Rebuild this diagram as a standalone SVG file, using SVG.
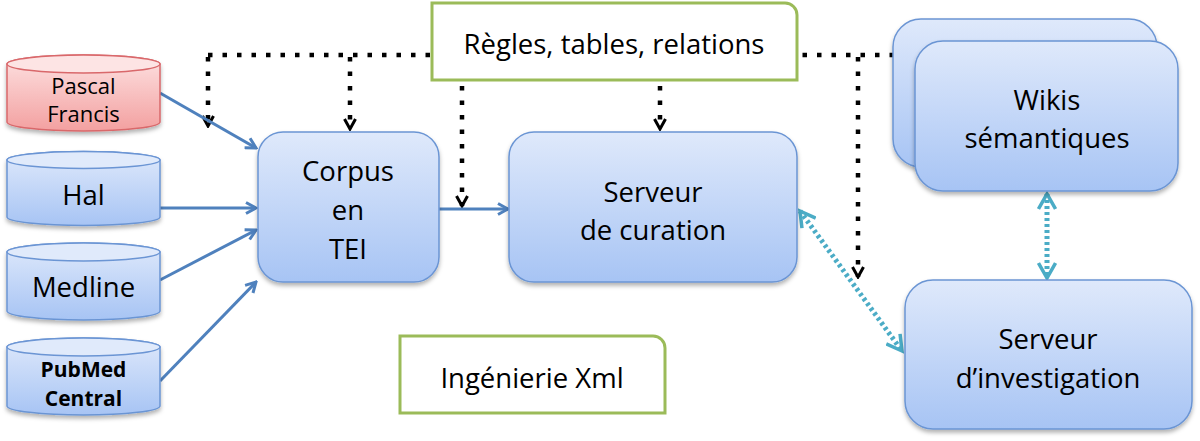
<svg xmlns="http://www.w3.org/2000/svg" width="1200" height="441" viewBox="0 0 1200 441">
<defs>
<linearGradient id="gBlue" x1="0" y1="0" x2="0" y2="1">
<stop offset="0" stop-color="#dfe9fb"/>
<stop offset="1" stop-color="#a7c4f4"/>
</linearGradient>
<linearGradient id="gRed" x1="0" y1="0" x2="0" y2="1">
<stop offset="0" stop-color="#fde2e2"/>
<stop offset="1" stop-color="#f3a0a0"/>
</linearGradient>
<filter id="sh" x="-10%" y="-10%" width="120%" height="130%">
<feDropShadow dx="0" dy="3" stdDeviation="2" flood-color="#000" flood-opacity="0.3"/>
</filter>
<marker id="aBlue" viewBox="0 0 14 14" refX="12" refY="7" markerWidth="14" markerHeight="14" markerUnits="userSpaceOnUse" orient="auto">
<path d="M2,1.5 L12,7 L2,12.5" fill="none" stroke="#4f81bd" stroke-width="3" stroke-linejoin="miter"/>
</marker>
<marker id="aBlack" viewBox="0 0 14 14" refX="12" refY="7" markerWidth="14" markerHeight="14" markerUnits="userSpaceOnUse" orient="auto">
<path d="M2,1.5 L12,7 L2,12.5" fill="none" stroke="#000" stroke-width="3"/>
</marker>
<marker id="aTeal" viewBox="0 0 20 20" refX="17" refY="10" markerWidth="20" markerHeight="20" markerUnits="userSpaceOnUse" orient="auto-start-reverse">
<path d="M2,1.5 L17,10 L2,18.5" fill="none" stroke="#4bacc6" stroke-width="3.5"/>
</marker>
</defs>
<style>
.t{font-family:"Open Sans","Noto Sans","Liberation Sans",sans-serif;fill:#000;text-anchor:middle}
.big{font-size:27.5px}
.mid{font-size:22px}
.box{fill:url(#gBlue);stroke:#6b95d4;stroke-width:1.5;filter:url(#sh)}
.cyl{fill:url(#gBlue);stroke:#6b95d4;stroke-width:1.5;filter:url(#sh)}
.cylr{fill:url(#gRed);stroke:#d9686b;stroke-width:1.5;filter:url(#sh)}
.gbox{fill:#fff;stroke:#9bbb59;stroke-width:3}
.dot{fill:none;stroke:#000;stroke-width:4.5;stroke-dasharray:4.5 10}
.blue{fill:none;stroke:#4f81bd;stroke-width:3}
.teal{fill:none;stroke:#4bacc6;stroke-width:5;stroke-dasharray:3 3}
</style>
<rect width="1200" height="441" fill="#fff"/>

<g id="connectors">
<path class="dot" d="M208,55 H893"/>
<path class="dot" d="M208,57 V126" marker-end="url(#aBlack)"/>
<path class="dot" d="M350,57 V129" marker-end="url(#aBlack)"/>
<path class="dot" d="M462,86 V206" marker-end="url(#aBlack)"/>
<path class="dot" d="M660,86 V129" marker-end="url(#aBlack)"/>
<path class="dot" d="M858,57 V277" marker-end="url(#aBlack)"/>
<path class="blue" d="M160,93 L256,148" marker-end="url(#aBlue)"/>
<path class="blue" d="M160,208 L256,208" marker-end="url(#aBlue)"/>
<path class="blue" d="M160,280 L256,230" marker-end="url(#aBlue)"/>
<path class="blue" d="M160,381 L256,282" marker-end="url(#aBlue)"/>
<path class="blue" d="M439,209 L508,209" marker-end="url(#aBlue)"/>
<path class="teal" d="M800,211 L902,351" marker-start="url(#aTeal)" marker-end="url(#aTeal)"/>
<path class="teal" d="M1047,194 L1047,278" marker-start="url(#aTeal)" marker-end="url(#aTeal)"/>
</g>

<g id="regles">
<path class="gbox" d="M432,3 H785 A12,12 0 0 1 797,15 V80 H432 Z"/>
<text class="t big" x="614" y="54">Règles, tables, relations</text>
</g>

<g id="pascal">
<path class="cylr" d="M7,64 V122 A76.5,9 0 0 0 160,122 V64 A76.5,9 0 0 0 7,64 Z"/>
<ellipse cx="83.5" cy="64" rx="76.5" ry="9" fill="#fde4e4" stroke="#d9686b" stroke-width="1.5"/>
<text class="t mid" x="83.5" y="94">Pascal</text>
<text class="t mid" x="83.5" y="122">Francis</text>
</g>

<g id="hal">
<path class="cyl" d="M7,160 V217 A76.5,8.5 0 0 0 160,217 V160 A76.5,8.5 0 0 0 7,160 Z"/>
<ellipse cx="83.5" cy="160" rx="76.5" ry="8.5" fill="#e0eafb" stroke="#6b95d4" stroke-width="1.5"/>
<text class="t big" x="83.5" y="205">Hal</text>
</g>

<g id="medline">
<path class="cyl" d="M7,252 V311 A76.5,9 0 0 0 160,311 V252 A76.5,9 0 0 0 7,252 Z"/>
<ellipse cx="83.5" cy="252" rx="76.5" ry="9" fill="#e0eafb" stroke="#6b95d4" stroke-width="1.5"/>
<text class="t big" x="83.5" y="297">Medline</text>
</g>

<g id="pubmed">
<path class="cyl" d="M7,347 V406 A76.5,9 0 0 0 160,406 V347 A76.5,9 0 0 0 7,347 Z"/>
<ellipse cx="83.5" cy="347" rx="76.5" ry="9" fill="#e0eafb" stroke="#6b95d4" stroke-width="1.5"/>
<text class="t" x="83.5" y="377" font-size="21" font-weight="bold">PubMed</text>
<text class="t" x="83.5" y="406" font-size="21" font-weight="bold">Central</text>
</g>

<g id="corpus">
<rect class="box" x="258" y="132" width="181" height="150" rx="25"/>
<text class="t big" x="348" y="181">Corpus</text>
<text class="t big" x="348" y="220">en</text>
<text class="t big" x="348" y="259">TEI</text>
</g>

<g id="curation">
<rect class="box" x="509" y="132" width="288" height="150" rx="25"/>
<text class="t big" x="653" y="202">Serveur</text>
<text class="t big" x="653" y="240">de curation</text>
</g>

<g id="wikis">
<rect class="box" x="893" y="19" width="264" height="148" rx="28"/>
<rect class="box" x="915" y="41" width="263" height="150" rx="28"/>
<text class="t big" x="1047" y="110">Wikis</text>
<text class="t big" x="1047" y="148">sémantiques</text>
</g>

<g id="investigation">
<rect class="box" x="905" y="280" width="287" height="149" rx="28"/>
<text class="t big" x="1048" y="349">Serveur</text>
<text class="t big" x="1048" y="388">d’investigation</text>
</g>

<g id="ingenierie">
<path class="gbox" d="M400,336 H653 A12,12 0 0 1 665,348 V413 H400 Z"/>
<text class="t big" x="532" y="388">Ingénierie Xml</text>
</g>
</svg>
